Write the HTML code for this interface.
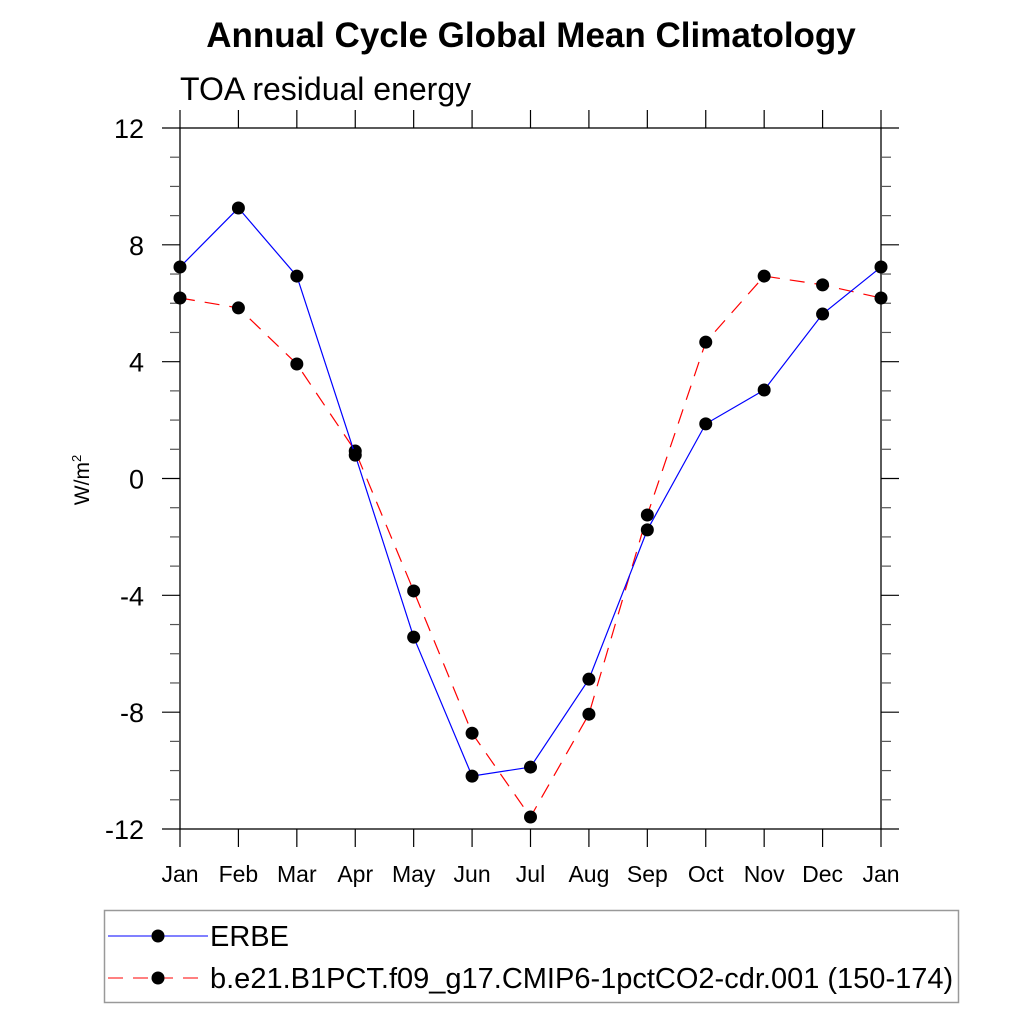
<!DOCTYPE html>
<html><head><meta charset="utf-8"><style>
html,body{margin:0;padding:0;background:#fff;}
svg{display:block;font-family:"Liberation Sans",sans-serif;}
</style></head><body>
<svg id="chart" width="1024" height="1024" viewBox="0 0 1024 1024" xmlns="http://www.w3.org/2000/svg">
<text x="531" y="47" text-anchor="middle" font-size="35" font-weight="bold">Annual Cycle Global Mean Climatology</text>
<text x="180" y="100" font-size="32">TOA residual energy</text>
<text transform="translate(89,480) rotate(-90)" text-anchor="middle" font-size="21">W/m<tspan dy="-8" font-size="13">2</tspan></text>
<g id="axes"></g>
<g id="series"></g>
<g>
<rect x="104.5" y="910.5" width="854" height="92" fill="none" stroke="#999" stroke-width="1.5"/>
<line x1="108" y1="936" x2="208" y2="936" stroke="#0000ff" stroke-width="1"/>
<circle cx="158" cy="936" r="6.5" fill="#000"/>
<text x="210" y="946" font-size="29">ERBE</text>
<line x1="108" y1="978" x2="208" y2="978" stroke="#ff0000" stroke-width="1" stroke-dasharray="15,10"/>
<circle cx="158" cy="978" r="6.5" fill="#000"/>
<text x="210" y="988" font-size="29">b.e21.B1PCT.f09_g17.CMIP6-1pctCO2-cdr.001 (150-174)</text>
</g>
</svg>
<script>
const months = ["Jan","Feb","Mar","Apr","May","Jun","Jul","Aug","Sep","Oct","Nov","Dec","Jan"];
const erbe = [7.24,9.26,6.93,0.8,-5.43,-10.19,-9.88,-6.87,-1.76,1.87,3.03,5.63,7.24];
const model = [6.18,5.84,3.92,0.94,-3.85,-8.72,-11.59,-8.07,-1.25,4.67,6.93,6.63,6.18];
const yTicks = [-12,-8,-4,0,4,8,12];
const yMin=-12, yMax=12;
const L=180, R=881, T=128, B=829;
const NS="http://www.w3.org/2000/svg";
function xS(i){return L+(R-L)*i/(months.length-1);}
function yS(v){return B-(B-T)*(v-yMin)/(yMax-yMin);}
function mk(tag,attrs,parent){const e=document.createElementNS(NS,tag);for(const k in attrs)e.setAttribute(k,attrs[k]);parent.appendChild(e);return e;}
const ax=document.getElementById('axes');
const frame=mk('rect',{x:L,y:T,width:R-L,height:B-T,fill:'none',stroke:'#000','stroke-width':1.3},ax);


for(let v=yMin; v<=yMax; v++){
  const major=(v%4===0);
  const len=major?18:10, col=major?'#000':'#555';
  mk('line',{x1:L-len,y1:yS(v),x2:L,y2:yS(v),stroke:col,'stroke-width':1.2},ax);
  mk('line',{x1:R,y1:yS(v),x2:R+len,y2:yS(v),stroke:col,'stroke-width':1.2},ax);
}
yTicks.forEach(v=>{
  const t=mk('text',{x:L-36,y:yS(v)+10,'text-anchor':'end','font-size':27},ax);
  t.textContent=v;
  
  
});
months.forEach((m,i)=>{
  mk('line',{x1:xS(i),y1:T-18,x2:xS(i),y2:T,stroke:'#000','stroke-width':1.2},ax);
  mk('line',{x1:xS(i),y1:B,x2:xS(i),y2:B+18,stroke:'#000','stroke-width':1.2},ax);
  const t=mk('text',{x:xS(i),y:882,'text-anchor':'middle','font-size':23},ax);
  t.textContent=m;
  
  
});
const sg=document.getElementById('series');
function drawSeries(vals,color,dash,name){
  const pts=vals.map((v,i)=>xS(i)+','+yS(v)).join(' ');
  const pl=mk('polyline',{points:pts,fill:'none',stroke:color,'stroke-width':1.2},sg);
  if(dash)pl.setAttribute('stroke-dasharray',dash);
  
  
  vals.forEach((v,i)=>{
    const c=mk('circle',{cx:xS(i),cy:yS(v),r:6.5,fill:'#000'},sg);
    
    
  });
}
drawSeries(model,'#ff0000','15,10','model');
drawSeries(erbe,'#0000ff',null,'erbe');
</script>
</body></html>
